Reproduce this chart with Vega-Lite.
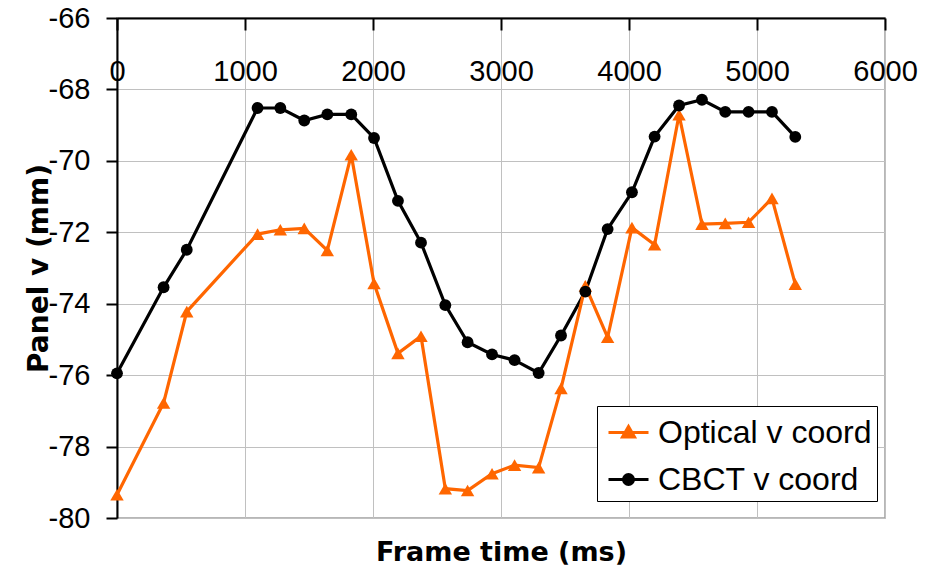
{
  "$schema": "https://vega.github.io/schema/vega-lite/v6.json",
  "width": 768,
  "height": 500,
  "autosize": {"type": "none"},
  "padding": {"left": 117, "top": 18, "right": 53, "bottom": 52},
  "background": "white",
  "config": {"view": {"stroke": "#a0a0a0", "strokeWidth": 1.5}, "font": "Liberation Sans"},
  "data": {"values": [
    {"t": 0, "v": -75.95, "series": "CBCT v coord"},
    {"t": 364, "v": -73.54, "series": "CBCT v coord"},
    {"t": 545, "v": -72.49, "series": "CBCT v coord"},
    {"t": 1098, "v": -68.52, "series": "CBCT v coord"},
    {"t": 1276, "v": -68.52, "series": "CBCT v coord"},
    {"t": 1463, "v": -68.87, "series": "CBCT v coord"},
    {"t": 1643, "v": -68.7, "series": "CBCT v coord"},
    {"t": 1830, "v": -68.7, "series": "CBCT v coord"},
    {"t": 2008, "v": -69.36, "series": "CBCT v coord"},
    {"t": 2195, "v": -71.12, "series": "CBCT v coord"},
    {"t": 2375, "v": -72.29, "series": "CBCT v coord"},
    {"t": 2565, "v": -74.04, "series": "CBCT v coord"},
    {"t": 2739, "v": -75.08, "series": "CBCT v coord"},
    {"t": 2930, "v": -75.42, "series": "CBCT v coord"},
    {"t": 3106, "v": -75.58, "series": "CBCT v coord"},
    {"t": 3294, "v": -75.94, "series": "CBCT v coord"},
    {"t": 3469, "v": -74.89, "series": "CBCT v coord"},
    {"t": 3659, "v": -73.66, "series": "CBCT v coord"},
    {"t": 3833, "v": -71.91, "series": "CBCT v coord"},
    {"t": 4023, "v": -70.88, "series": "CBCT v coord"},
    {"t": 4200, "v": -69.32, "series": "CBCT v coord"},
    {"t": 4391, "v": -68.45, "series": "CBCT v coord"},
    {"t": 4570, "v": -68.29, "series": "CBCT v coord"},
    {"t": 4752, "v": -68.63, "series": "CBCT v coord"},
    {"t": 4934, "v": -68.63, "series": "CBCT v coord"},
    {"t": 5117, "v": -68.63, "series": "CBCT v coord"},
    {"t": 5299, "v": -69.33, "series": "CBCT v coord"},
    {"t": 0, "v": -79.35, "series": "Optical v coord"},
    {"t": 364, "v": -76.78, "series": "Optical v coord"},
    {"t": 545, "v": -74.22, "series": "Optical v coord"},
    {"t": 1098, "v": -72.05, "series": "Optical v coord"},
    {"t": 1276, "v": -71.93, "series": "Optical v coord"},
    {"t": 1463, "v": -71.89, "series": "Optical v coord"},
    {"t": 1643, "v": -72.51, "series": "Optical v coord"},
    {"t": 1830, "v": -69.83, "series": "Optical v coord"},
    {"t": 2008, "v": -73.43, "series": "Optical v coord"},
    {"t": 2195, "v": -75.39, "series": "Optical v coord"},
    {"t": 2375, "v": -74.91, "series": "Optical v coord"},
    {"t": 2565, "v": -79.18, "series": "Optical v coord"},
    {"t": 2739, "v": -79.23, "series": "Optical v coord"},
    {"t": 2930, "v": -78.76, "series": "Optical v coord"},
    {"t": 3106, "v": -78.52, "series": "Optical v coord"},
    {"t": 3294, "v": -78.59, "series": "Optical v coord"},
    {"t": 3469, "v": -76.37, "series": "Optical v coord"},
    {"t": 3659, "v": -73.5, "series": "Optical v coord"},
    {"t": 3833, "v": -74.94, "series": "Optical v coord"},
    {"t": 4023, "v": -71.87, "series": "Optical v coord"},
    {"t": 4200, "v": -72.35, "series": "Optical v coord"},
    {"t": 4391, "v": -68.71, "series": "Optical v coord"},
    {"t": 4570, "v": -71.77, "series": "Optical v coord"},
    {"t": 4752, "v": -71.75, "series": "Optical v coord"},
    {"t": 4934, "v": -71.72, "series": "Optical v coord"},
    {"t": 5117, "v": -71.05, "series": "Optical v coord"},
    {"t": 5299, "v": -73.45, "series": "Optical v coord"}
  ]},
  "layer": [
    {
      "mark": {"type": "line", "strokeWidth": 3.2},
      "encoding": {
        "x": {
          "field": "t", "type": "quantitative",
          "scale": {"domain": [0, 6000], "nice": false, "zero": false},
          "axis": {
            "orient": "top", "title": null,
            "values": [0, 1000, 2000, 3000, 4000, 5000, 6000],
            "labelExpr": "datum.value + ''",
            "labelFont": "Liberation Sans", "labelFontSize": 29, "labelColor": "black",
            "labelFlush": false, "labelOverlap": false, "labelBound": false,
            "labelBaseline": "middle", "labelPadding": -41,
            "tickSize": -12, "tickWidth": 2, "tickColor": "black",
            "domainColor": "black", "domainWidth": 2,
            "grid": true, "gridColor": "#c0c0c0", "gridWidth": 1
          }
        },
        "y": {
          "field": "v", "type": "quantitative",
          "scale": {"domain": [-80, -66], "nice": false, "zero": false},
          "axis": {
            "title": "Panel v (mm)",
            "values": [-80, -78, -76, -74, -72, -70, -68, -66],
            "labelExpr": "datum.value + ''",
            "labelFont": "Liberation Sans", "labelFontSize": 29, "labelColor": "black",
            "labelFlush": false, "labelOverlap": false, "labelPadding": 16,
            "tickSize": 11, "tickWidth": 2, "tickColor": "black",
            "domainColor": "black", "domainWidth": 2,
            "grid": true, "gridColor": "#c0c0c0", "gridWidth": 1,
            "titleFont": "DejaVu Sans", "titleFontSize": 28, "titleFontWeight": "bold",
            "titleColor": "black", "titlePadding": -5
          }
        },
        "color": {
          "field": "series", "type": "nominal",
          "scale": {"domain": ["Optical v coord", "CBCT v coord"], "range": ["#ff6600", "#000000"]},
          "legend": {
            "orient": "none", "legendX": 480, "legendY": 388,
            "title": null,
            "labelFont": "Liberation Sans", "labelFontSize": 32, "labelColor": "black", "labelLimit": 400,
            "labelOffset": 8, "symbolSize": 1600, "symbolStrokeWidth": 3, "symbolOffset": 5,
            "strokeColor": "black", "fillColor": "white", "padding": 5, "rowPadding": 9,
            "encode": {
              "symbols": {
                "update": {
                  "shape": {"signal": "datum.value == 'Optical v coord' ? 'M-1,0H1M0,-0.3L0.3,0.22L-0.3,0.22Z' : 'M-1,0H1M0.25,0A0.25,0.25,0,1,1,-0.25,0A0.25,0.25,0,1,1,0.25,0Z'"},
                  "size": {"value": 1600},
                  "stroke": {"signal": "datum.value == 'Optical v coord' ? '#ff6600' : '#000000'"},
                  "fill": {"signal": "datum.value == 'Optical v coord' ? '#ff6600' : '#000000'"},
                  "strokeWidth": {"value": 3},
                  "opacity": {"value": 1}
                }
              }
            }
          }
        }
      }
    },
    {
      "transform": [{"filter": "datum.series == 'Optical v coord'"}],
      "mark": {"type": "point", "filled": true, "opacity": 1, "shape": "triangle-up", "size": 180},
      "encoding": {
        "x": {
          "field": "t", "type": "quantitative",
          "axis": {
            "orient": "bottom", "title": "Frame time (ms)",
            "labels": false, "ticks": false, "domain": false, "grid": false,
            "titleFont": "DejaVu Sans", "titleFontSize": 27, "titleFontWeight": "bold",
            "titleColor": "black", "titlePadding": 21
          }
        },
        "y": {"field": "v", "type": "quantitative"},
        "color": {"field": "series", "type": "nominal"}
      }
    },
    {
      "transform": [{"filter": "datum.series == 'CBCT v coord'"}],
      "mark": {"type": "point", "filled": true, "opacity": 1, "shape": "circle", "size": 140},
      "encoding": {
        "x": {"field": "t", "type": "quantitative", "axis": null},
        "y": {"field": "v", "type": "quantitative"},
        "color": {"field": "series", "type": "nominal"}
      }
    }
  ],
  "resolve": {"axis": {"x": "independent"}}
}
